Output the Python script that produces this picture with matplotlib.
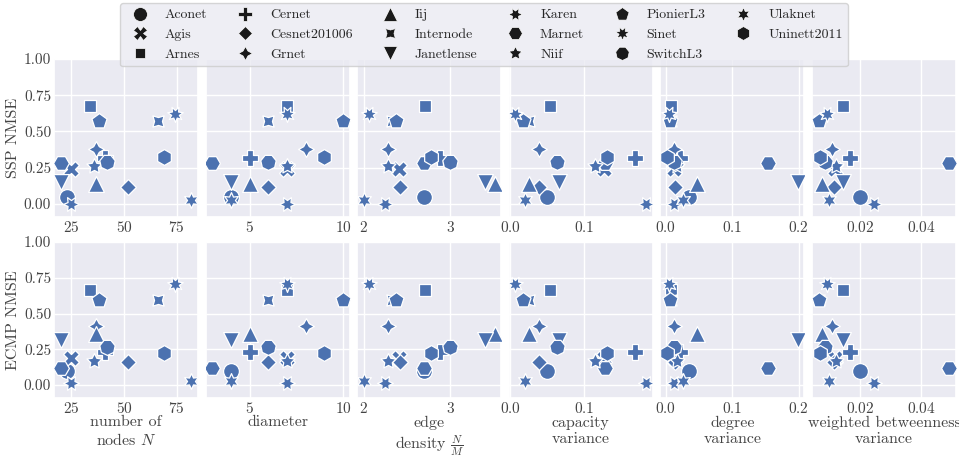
import matplotlib
matplotlib.use("Agg")
import matplotlib.pyplot as plt
import seaborn as sns
from matplotlib.lines import Line2D
from matplotlib.ticker import MultipleLocator

sns.set_theme(style="darkgrid")
plt.rcParams['font.family'] = ['serif']
plt.rcParams['font.serif'] = ['cmr10', 'DejaVu Serif']
plt.rcParams['mathtext.fontset'] = 'cm'
plt.rcParams['axes.unicode_minus'] = False
plt.rcParams['axes.formatter.use_mathtext'] = True

# ---------------- data ----------------
networks = ["Aconet", "Agis", "Arnes", "Cernet", "Cesnet201006", "Grnet", "Iij",
            "Internode", "Janetlense", "Karen", "Marnet", "Niif", "PionierL3",
            "Sinet", "SwitchL3", "Ulaknet", "Uninett2011"]
num_nodes = [23, 25, 34, 41, 52, 37, 37, 66, 20, 25, 20, 36, 38, 74, 42, 82, 69]
diameter = [4, 7, 7, 5, 6, 8, 5, 6, 4, 7, 3, 7, 10, 7, 6, 4, 9]
edge_density = [2.70, 2.41, 2.71, 2.88, 2.42, 2.28, 3.51, 2.33, 3.40, 2.24, 2.70,
                2.28, 2.37, 2.06, 3.00, 2.00, 2.78]
capacity_var = [0.050, 0.127, 0.0545, 0.169, 0.0386, 0.0386, 0.025, 0.025, 0.066,
                0.185, 0.129, 0.115, 0.017, 0.0068, 0.0636, 0.0205, 0.131]
degree_var = [0.035, 0.0125, 0.0075, 0.0215, 0.014, 0.0125, 0.0465, 0.007, 0.199,
              0.0125, 0.154, 0.016, 0.0055, 0.005, 0.0115, 0.025, 0.0015]
wbc_var = [0.020, 0.012, 0.0146, 0.0166, 0.0117, 0.0109, 0.0077, 0.0068, 0.0145,
           0.0245, 0.0492, 0.0123, 0.0065, 0.0092, 0.0085, 0.0098, 0.0071]
ssp_nmse = [0.05, 0.24, 0.678, 0.32, 0.117, 0.378, 0.135, 0.575, 0.15, 0.002,
            0.28, 0.26, 0.575, 0.62, 0.287, 0.026, 0.322]
ecmp_nmse = [0.098, 0.187, 0.662, 0.232, 0.164, 0.41, 0.36, 0.597, 0.314, 0.012,
             0.12, 0.169, 0.595, 0.707, 0.267, 0.028, 0.227]

x_features = [num_nodes, diameter, edge_density, capacity_var, degree_var, wbc_var]
x_labels = ["number of\nnodes $N$", "diameter", "edge\ndensity $\\frac{N}{M}$",
            "capacity\nvariance", "degree\nvariance", "weighted betweenness\nvariance"]
x_tick_steps = [25, 5, 1, 0.1, 0.1, 0.02]
row_values = [ssp_nmse, ecmp_nmse]
row_labels = ["SSP NMSE", "ECMP NMSE"]

# seaborn default style markers
markers = ["o", "X", (4, 0, 45), "P", (4, 0, 0), (4, 1, 0), "^", (4, 1, 45), "v"]
s_ = 5
while len(markers) < len(networks):
    a = 360 / (s_ + 1) / 2
    markers.extend([(s_ + 1, 1, a), (s_ + 1, 0, a), (s_, 1, 0), (s_, 0, 0)])
    s_ += 1
markers = markers[:len(networks)]

color = "#4c72b0"
W, H = 959, 458
fig = plt.figure(figsize=(W / 100, H / 100), dpi=100)

lefts = [54 + i * 151.6 for i in range(6)]
ax_w = 144
rows_px = [(59, 217), (242, 398)]
text_col = "#444444"

for r, (top, bot) in enumerate(rows_px):
    for c in range(6):
        ax = fig.add_axes([lefts[c] / W, 1 - bot / H, ax_w / W, (bot - top) / H])
        xs = x_features[c]
        ys = row_values[r]
        for i in range(len(networks)):
            ax.scatter([xs[i]], [ys[i]], marker=markers[i], s=130, color=color,
                       edgecolor="white", linewidth=0.9, zorder=3)
        ax.set_ylim(-0.09, 1.0)
        ax.yaxis.set_major_locator(MultipleLocator(0.25))
        ax.xaxis.set_major_locator(MultipleLocator(x_tick_steps[c]))
        ax.tick_params(length=0, labelsize=11, colors=text_col, pad=2)
        if c == 0:
            ax.set_yticklabels([f"{v:.2f}" for v in ax.get_yticks()])
            ax.set_ylabel(row_labels[r], fontsize=11.5, color=text_col, labelpad=3)
        else:
            ax.tick_params(axis="y", labelleft=False)
        if r == 1:
            ax.set_xlabel(x_labels[c], fontsize=11.5, color=text_col,
                          labelpad=0, linespacing=1.2)

handles = [Line2D([], [], linestyle="none", marker=markers[i], color="0.1",
                  markersize=10, markeredgecolor="white", markeredgewidth=0.5)
           for i in range(len(networks))]
fig.legend(handles, networks, loc="upper center", bbox_to_anchor=(0.505, 0.993),
           ncol=6, fontsize=10, frameon=True, labelspacing=0.5,
           borderaxespad=0.0, handletextpad=0.8, columnspacing=1.7)

fig.savefig("out.png", dpi=100)
